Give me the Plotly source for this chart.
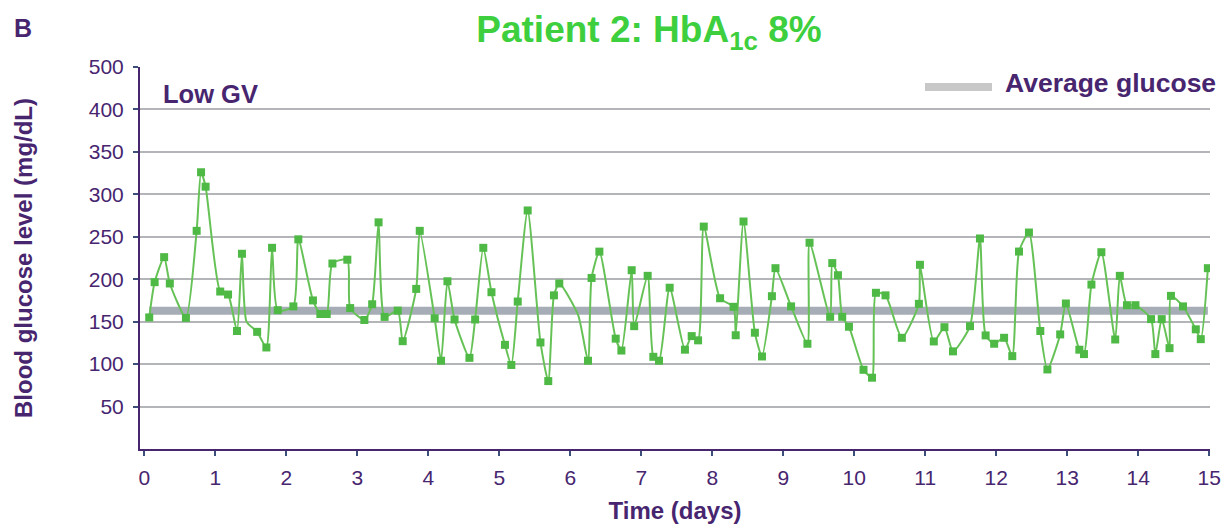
import plotly.graph_objects as go

# ---- data ----
days = [0.07, 0.146, 0.28, 0.36, 0.587, 0.738, 0.80, 0.864, 1.07, 1.18, 1.306, 1.376, 1.44,
        1.59, 1.72, 1.80, 1.88, 2.10, 2.17, 2.376, 2.48, 2.57, 2.65, 2.86, 2.90, 3.10, 3.21,
        3.30, 3.385, 3.57, 3.64, 3.83, 3.88, 4.09, 4.18, 4.27, 4.37, 4.58, 4.66, 4.775, 4.89,
        5.08, 5.17, 5.26, 5.40, 5.58, 5.69, 5.77, 5.845, 6.11, 6.25, 6.30, 6.41, 6.64, 6.72,
        6.865, 6.90, 7.09, 7.17, 7.25, 7.40, 7.615, 7.71, 7.80, 7.88, 8.11, 8.30, 8.33, 8.44,
        8.60, 8.70, 8.84, 8.89, 9.11, 9.34, 9.37, 9.66, 9.69, 9.77, 9.83, 9.925, 10.13, 10.25,
        10.305, 10.44, 10.67, 10.91, 10.925, 11.12, 11.27, 11.39, 11.63, 11.77, 11.85, 11.97,
        12.11, 12.225, 12.32, 12.46, 12.62, 12.72, 12.90, 12.98, 13.17, 13.235, 13.34, 13.48,
        13.675, 13.74, 13.84, 13.96, 14.18, 14.24, 14.33, 14.44, 14.46, 14.63, 14.81, 14.88, 14.98]

glucose = [155, 196.5, 226, 195, 154.5, 257, 326, 309, 185.5, 182, 139, 230, 150,
           138, 119.6, 237, 163.5, 168, 247, 175, 159, 159, 218.5, 223, 166, 152, 170.5,
           267, 155.6, 163, 127, 188.6, 257, 154, 104, 197.6, 152.6, 107.4, 152.6, 237, 184.7,
           122.7, 99, 173.7, 281, 125.5, 80, 181, 195, 158, 104, 201.5, 232.5, 130, 116,
           210.6, 144.7, 204, 108.6, 104, 190, 117, 133, 128, 262, 177.6, 167.5, 134, 268,
           137, 109, 180, 213, 168, 124, 243, 155.7, 219, 204.7, 155.7, 144, 93.3, 84,
           184, 181, 131, 171, 217, 126.7, 143.5, 115, 144.7, 248, 133.8, 124,
           131, 109.4, 232.6, 255, 139, 93.7, 135, 171.4, 117, 111.8, 193.7, 231.8,
           129, 204, 169.4, 169.4, 153, 111.8, 153, 118.8, 180.4, 168, 141, 129.4, 213]

# bends of the drawn line that carry no marker
unmarked_days = [1.44, 6.11]

average_glucose = 163

x_ticks = list(range(0, 16))
y_tickvals = [50, 100, 150, 200, 250, 300, 350, 400, 450]
y_ticktext = ["50", "100", "150", "200", "250", "300", "350", "400", "500"]
y_grid = [50, 100, 150, 200, 250, 300, 350, 400]

title_text = "Patient 2: HbA<sub>1c</sub> 8%"
panel_label = "B"
gv_label = "Low GV"
legend_label = "Average glucose"
x_title = "Time (days)"
y_title = "Blood glucose level (mg/dL)"

# ---- styling ----
PURPLE = "#47256f"
GREEN_TITLE = "#3ecf3e"
LINE_GREEN = "#66c257"
MARK_GREEN = "#4fb946"
AVG_GREY = "#a6adb6"
LEG_GREY = "#c8c8c8"
FONT = "Liberation Sans, Arial, sans-serif"

W, H = 1227, 524
ML, MR, MT, MB = 140, 17, 67, 75
PW, PH = W - ML - MR, H - MT - MB


def px_x(p):
    return (p - ML) / PW


def px_y(p):
    return (H - MB - p) / PH


mk_days = [d for d in days if d not in unmarked_days]
mk_vals = [v for d, v in zip(days, glucose) if d not in unmarked_days]

fig = go.Figure()
fig.add_trace(go.Scatter(
    x=[days[0], days[-1]], y=[average_glucose, average_glucose],
    mode="lines", line=dict(color=AVG_GREY, width=8),
    showlegend=False, hoverinfo="skip"))
fig.add_trace(go.Scatter(
    x=days, y=glucose, mode="lines",
    line=dict(color=LINE_GREEN, width=2, shape="spline", smoothing=0.6),
    showlegend=False))
fig.add_trace(go.Scatter(
    x=mk_days, y=mk_vals, mode="markers",
    marker=dict(symbol="square", size=8, color=MARK_GREEN),
    showlegend=False))

fig.update_layout(
    width=W, height=H,
    margin=dict(l=ML, r=MR, t=MT, b=MB, autoexpand=False),
    paper_bgcolor="white", plot_bgcolor="white",
    font=dict(family=FONT, color=PURPLE),
    title=dict(text=title_text, x=649 / W, xanchor="center", xref="container",
               y=1 - 29 / H, yanchor="middle", yref="container",
               font=dict(family=FONT, size=37, color=GREEN_TITLE, weight="bold")),
    xaxis=dict(range=[-0.06, 15.01], tickvals=x_ticks, showgrid=False, zeroline=False,
               automargin=False,
               showline=True, linecolor=PURPLE, linewidth=2,
               ticks="outside", ticklen=5, tickwidth=2, tickcolor="#3c4f7a",
               tickfont=dict(size=21, color=PURPLE), ticklabelstandoff=4,
               title=dict(text=x_title, standoff=14,
                          font=dict(size=24, color=PURPLE, weight="bold"))),
    yaxis=dict(range=[0, 450], tickvals=y_tickvals, ticktext=y_ticktext,
               showgrid=False, zeroline=False, automargin=False,
               showline=True, linecolor=PURPLE, linewidth=2,
               ticks="outside", ticklen=5, tickwidth=2, tickcolor="#3c4f7a",
               tickfont=dict(size=21, color=PURPLE), ticklabelstandoff=5,
               minor=dict(tickvals=y_grid, showgrid=True, gridcolor="#b3b5b9",
                          gridwidth=2, ticks=""),
               title=dict(text=y_title, standoff=49,
                          font=dict(size=24, color=PURPLE, weight="bold"))),
    showlegend=False,
)

fig.add_annotation(text=panel_label, xref="paper", yref="paper",
                   x=px_x(12), y=px_y(28), xanchor="left", yanchor="middle",
                   showarrow=False, font=dict(size=25, color=PURPLE, weight="bold"))
fig.add_annotation(text=gv_label, xref="paper", yref="paper",
                   x=px_x(161), y=px_y(94), xanchor="left", yanchor="middle",
                   showarrow=False, font=dict(size=25.5, color=PURPLE, weight="bold"))
fig.add_annotation(text=legend_label, xref="paper", yref="paper",
                   x=px_x(1003), y=px_y(83), xanchor="left", yanchor="middle",
                   showarrow=False, font=dict(size=26.5, color=PURPLE, weight="bold"))
fig.add_shape(type="line", xref="paper", yref="paper",
              x0=px_x(925), x1=px_x(992), y0=px_y(87), y1=px_y(87),
              line=dict(color=LEG_GREY, width=8))

fig.write_html("out.html")
